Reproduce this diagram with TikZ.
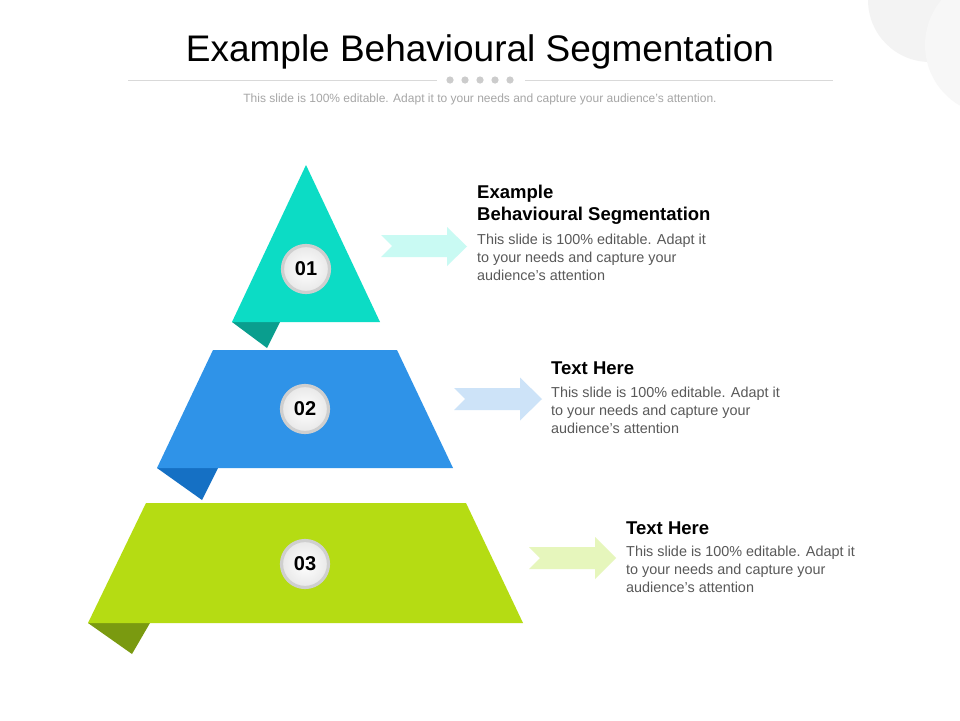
\documentclass[tikz,border=0pt]{standalone}
\usepackage{fontspec}
\setmainfont{Liberation Sans}
\usetikzlibrary{calc}
\definecolor{tealA}{HTML}{0CDCC5}
\definecolor{tealD}{HTML}{0A9E8E}
\definecolor{blueA}{HTML}{2F93E8}
\definecolor{blueD}{HTML}{1570C4}
\definecolor{limeA}{HTML}{B5DC13}
\definecolor{limeD}{HTML}{7A9A10}
\definecolor{arrA}{HTML}{C9FAF3}
\definecolor{arrB}{HTML}{CDE3F8}
\definecolor{arrC}{HTML}{E6F6BC}
\definecolor{bodygrey}{HTML}{595959}
\definecolor{subgrey}{HTML}{A6A6A6}
\definecolor{linegrey}{HTML}{D9D9D9}
\definecolor{dotgrey}{HTML}{CCCCCC}
\definecolor{ringgrey}{HTML}{CFCFCF}
\definecolor{bgA}{HTML}{F3F3F3}
\definecolor{bgB}{HTML}{F7F7F7}
\tikzset{
  heading/.style={anchor=north west, align=left, inner sep=0pt, font=\fontsize{18.5}{22}\selectfont\bfseries, text=black},
  body/.style={anchor=north west, align=left, inner sep=0pt, font=\fontsize{14.4}{18}\selectfont, text=bodygrey},
  badge/.style={circle, minimum size=47pt, inner sep=0pt, draw=ringgrey, line width=3.2pt, inner color=white, outer color=black!9, font=\fontsize{20}{24}\selectfont\bfseries, text=black},
}
\begin{document}
\begin{tikzpicture}[x=1pt,y=-1pt]
\useasboundingbox (0,0) rectangle (960,720);
\fill[white] (0,0) rectangle (960,720);
% background circles
\begin{scope}
\clip (0,0) rectangle (960,720);
\fill[bgA] (930,0) circle (62);
\fill[bgB] (995,45) circle (70);
\end{scope}
% title
\node[font=\fontsize{37}{44}\selectfont, text=black] (title) at (480,52) {Example Behavioural Segmentation};
\draw[linegrey, line width=0.8pt] (128,80) -- (437,80);
\draw[linegrey, line width=0.8pt] (525,80) -- (833,80);
\foreach \i in {0,...,4} \fill[dotgrey] (450+15*\i,80) circle (3.6);
\node[font=\fontsize{12}{14}\selectfont, text=subgrey] (sub) at (480,99) {This slide is 100\% editable. Adapt it to your needs and capture your audience's attention.};
% level 1
\fill[tealD] (232,322) -- (280,322) -- (267,348) -- cycle;
\fill[tealA] (306,165) -- (380,322) -- (232,322) -- cycle;
% level 2
\fill[blueD] (157,468) -- (218,468) -- (202,500) -- cycle;
\fill[blueA] (213,350) -- (397,350) -- (453,468) -- (157,468) -- cycle;
% level 3
\fill[limeD] (88,623) -- (150,623) -- (132,654) -- cycle;
\fill[limeA] (146,503) -- (466,503) -- (523,623) -- (88,623) -- cycle;
% badges
\node[badge] (b1) at (306,269) {01};
\node[badge] (b2) at (305,409) {02};
\node[badge] (b3) at (305,564) {03};
% arrows
\fill[arrA] (381,235) -- (447,235) -- (447,227) -- (467,246.5) -- (447,266) -- (447,257) -- (381,257) -- (392,246) -- cycle;
\fill[arrB] (454,388) -- (520,388) -- (520,377.5) -- (542,399) -- (520,420.5) -- (520,410) -- (454,410) -- (465,399) -- cycle;
\fill[arrC] (529,547) -- (595,547) -- (595,537) -- (616,558) -- (595,579) -- (595,569) -- (529,569) -- (540,558) -- cycle;
% texts
\node[heading] (h1) at (477,185) {Example\\Behavioural Segmentation};
\node[body] (t1) at (477,234) {This slide is 100\% editable. Adapt it\\to your needs and capture your\\audience's attention};
\node[heading] (h2) at (551,362) {Text Here};
\node[body] (t2) at (551,387) {This slide is 100\% editable. Adapt it\\to your needs and capture your\\audience's attention};
\node[heading] (h3) at (626,522) {Text Here};
\node[body] (t3) at (626,546) {This slide is 100\% editable. Adapt it\\to your needs and capture your\\audience's attention};
\end{tikzpicture}
\end{document}
